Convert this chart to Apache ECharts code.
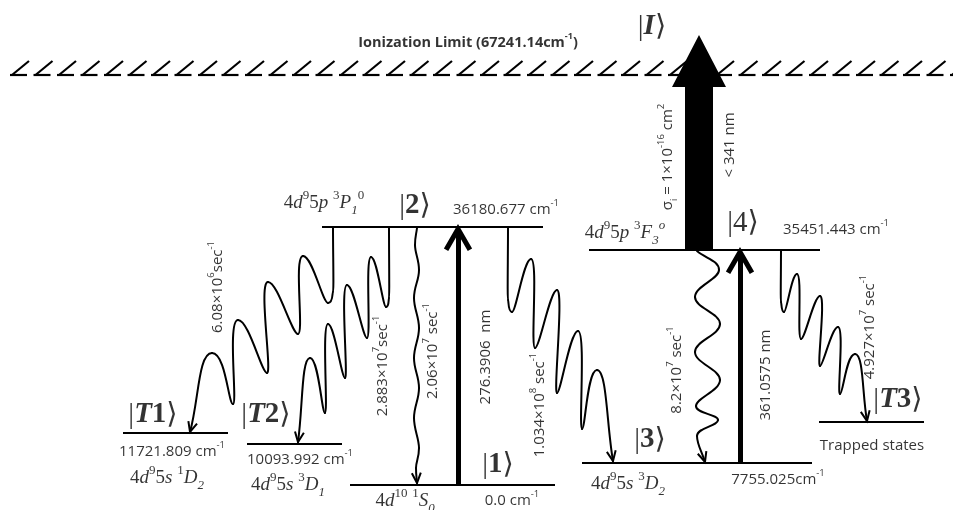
<!DOCTYPE html>
<html><head><meta charset="utf-8">
<script src="https://cdn.jsdelivr.net/npm/echarts@6/dist/echarts.min.js"></script>
<style>html,body{margin:0;padding:0;background:#fff}#c{width:953px;height:510px}</style>
</head><body><div id="c"></div>
<script>
// ---------- data (diagram units: x across, y down; levels are not drawn to energy scale) ----------
const levelNames    = ['T1', 'T2', '1', '2', '3', '4', 'T3'];
const levelEnergies = [11721.809, 10093.992, 0.0, 36180.677, 7755.025, 35451.443, null];
const levelSpans    = [[123, 228, 433], [247, 342, 444], [350, 555, 485], [322, 543, 227], [582, 812, 463], [589, 820, 250], [819, 924, 422]];
const ionizationLimit = 67241.14;
const ionRow = 75;

// excitation (laser) transitions: [x, fromRow, toRow]
const laserUp = [[458, 485, 229], [740, 463, 252]];
// photo-ionisation arrow from |4> : [x, fromRow, tipRow]
const ionArrow = [[699, 250, 35]];

// cascade decays: start on the upper level, straight drop, then the zigzag extremes, arrow tip on the lower level
const decayT1 = [[333, 227], [333, 292], [328, 303], [303, 256], [298, 334], [268, 282], [267, 373], [238, 320], [233, 404], [212, 353], [190, 432]];
const decayT2 = [[389, 227], [389, 298], [386, 307], [371, 257], [367, 338], [347, 285], [345, 378], [328, 324], [325, 413], [310, 358], [298, 442]];
const decay3  = [[508, 227], [508, 300], [512, 312], [531, 259], [535, 348], [557, 290], [557, 393], [578, 331], [582, 429], [597, 370], [613, 461]];
const decayT3 = [[781, 250], [781, 302], [784, 312], [797, 274], [801, 339], [820, 296], [820, 366], [838, 327], [840, 394], [855, 354], [867, 421]];
// spontaneous emission (wavy) lines
const wave21 = [[417, 228], [415, 245], [419, 270], [414, 298], [419, 328], [414, 358], [419, 388], [414, 418], [419, 448], [416, 468], [417, 483]];
const wave43 = [[697, 251], [719, 270], [695, 297], [720, 324], [695, 352], [720, 380], [696, 406], [718, 420], [697, 436], [705, 462]];
const decayPaths = [decayT1, decayT2, decay3, decayT3, wave21, wave43];
const pathKinds  = ['zig', 'zig', 'zig', 'zig', 'wave', 'wave'];

// ---------- text ----------
const textLabels = [
  [468, 43, '{b|Ionization Limit (67241.14cm}{bs|-1}{b|)}', 0],
  [652, 27, '{k||}{kbi|I}{k|⟩}', 0],
  [668, 157, '{s|σ}{sb|i}{s| = 1×10}{ss|-16}{s| cm}{ss|2}', 90],
  [730, 145, '{s|< 341 nm}', 90],
  [625, 233, '{mr|4}{mi|d}{mp|9}{mr|5}{mi|p }{mp|3}{mi|F}{mb|3}{mpi|o}', 0],
  [743, 223, '{k||4⟩}', 0],
  [836, 230, '{s|35451.443 cm}{ss|-1}', 0],
  [324, 203, '{mr|4}{mi|d}{mp|9}{mr|5}{mi|p }{mp|3}{mi|P}{mb|1}{mp|0}', 0],
  [415, 206, '{k||}{kb|2}{k|⟩}', 0],
  [506, 210, '{s|36180.677 cm}{ss|-1}', 0],
  [218, 287, '{s|6.08×10}{ss|6}{s|sec}{ss|-1}', 90],
  [383, 366, '{s|2.883×10}{ss|7}{s|sec}{ss|-1}', 90],
  [433, 351, '{s|2.06×10}{ss|7}{s| sec}{ss|-1}', 90],
  [486, 357, '{s|276.3906  nm}', 90],
  [540, 405, '{s|1.034×10}{ss|8}{s| sec}{ss|-1}', 90],
  [677, 370, '{s|8.2×10}{ss|7}{s| sec}{ss|-1}', 90],
  [766, 375, '{s|361.0575 nm}', 90],
  [870, 327, '{s|4.927×10}{ss|7}{s| sec}{ss|-1}', 90],
  [153, 415, '{k||}{kbi|T}{kb|1}{k|⟩}', 0],
  [172, 452, '{s|11721.809 cm}{ss|-1}', 0],
  [167, 478, '{mr|4}{mi|d}{mp|9}{mr|5}{mi|s }{mp|1}{mi|D}{mb|2}', 0],
  [266, 415, '{k||}{kbi|T}{kb|2}{k|⟩}', 0],
  [300, 460, '{s|10093.992 cm}{ss|-1}', 0],
  [288, 485, '{mr|4}{mi|d}{mp|9}{mr|5}{mi|s }{mp|3}{mi|D}{mb|1}', 0],
  [405, 501, '{mr|4}{mi|d}{mp|10}{mi| }{mp|1}{mi|S}{mb|0}', 0],
  [498, 465, '{k||}{kb|1}{k|⟩}', 0],
  [512, 501, '{s|0.0 cm}{ss|-1}', 0],
  [650, 440, '{k||}{kb|3}{k|⟩}', 0],
  [628, 484, '{mr|4}{mi|d}{mp|9}{mr|5}{mi|s }{mp|3}{mi|D}{mb|2}', 0],
  [778, 480, '{s|7755.025cm}{ss|-1}', 0],
  [898, 400, '{k||}{kbi|T}{kb|3}{k|⟩}', 0],
  [872, 446, '{s|Trapped states}', 0]
];

// ---------- styles ----------
const F = "'Open Sans', 'Noto Sans', sans-serif";
const S = "'Liberation Serif', 'DejaVu Serif', serif";
const rich = {
  s:  {fontFamily: F, fontSize: 15, color: '#000', lineHeight: 23},
  ss: {fontFamily: F, fontSize: 9.5, color: '#000', lineHeight: 10, verticalAlign: 'top'},
  sb: {fontFamily: F, fontSize: 9.5, color: '#000', lineHeight: 17, verticalAlign: 'bottom'},
  b:  {fontFamily: F, fontSize: 14.5, fontWeight: 'bold', color: '#000', lineHeight: 22},
  bs: {fontFamily: F, fontSize: 9, fontWeight: 'bold', color: '#000', lineHeight: 10, verticalAlign: 'top'},
  mi: {fontFamily: S, fontSize: 19, fontStyle: 'italic', color: '#000', lineHeight: 28},
  mr: {fontFamily: S, fontSize: 19, color: '#000', lineHeight: 28},
  mp: {fontFamily: S, fontSize: 13, color: '#000', lineHeight: 14, verticalAlign: 'top'},
  mpi:{fontFamily: S, fontSize: 13, fontStyle: 'italic', color: '#000', lineHeight: 14, verticalAlign: 'top'},
  mb: {fontFamily: S, fontSize: 13, fontStyle: 'italic', color: '#000', lineHeight: 19, verticalAlign: 'bottom'},
  k:  {fontFamily: S, fontSize: 29, color: '#000', lineHeight: 32},
  kb: {fontFamily: S, fontSize: 29, fontWeight: 'bold', color: '#000', lineHeight: 32},
  kbi:{fontFamily: S, fontSize: 29, fontWeight: 'bold', fontStyle: 'italic', color: '#000', lineHeight: 32}
};

// ---------- helpers ----------
function seg(a, b) { return {coords: [a, b]}; }
function chevronPts(tip, from, len, half) {
  const a = Math.atan2(from[1] - tip[1], from[0] - tip[0]);
  return [[tip[0] + len * Math.cos(a + half), tip[1] + len * Math.sin(a + half)], tip,
          [tip[0] + len * Math.cos(a - half), tip[1] + len * Math.sin(a - half)]];
}
function chevron(len, half, width) {
  return function (params, api) {
    const tip = api.coord([api.value(0), api.value(1)]);
    const from = api.coord([api.value(2), api.value(3)]);
    return {type: 'polyline', shape: {points: chevronPts(tip, from, len, half)},
      style: {stroke: '#000', lineWidth: width, fill: null, lineJoin: 'miter', lineCap: 'butt'}};
  };
}
// smooth curve through the read extremes (horizontal tangents for zigzags, vertical for waves), open arrowhead
function renderDecay(params, api) {
  const idx = api.value(0);
  const kind = pathKinds[idx];
  const pts = decayPaths[idx].map(p => api.coord(p));
  const n = pts.length;
  const tan = pts.map((p, i) => {
    if (i === 0) return [2 * (pts[1][0] - p[0]), 2 * (pts[1][1] - p[1])];
    if (i === n - 1) return [2 * (p[0] - pts[n - 2][0]), 2 * (p[1] - pts[n - 2][1])];
    const t = [pts[i + 1][0] - pts[i - 1][0], pts[i + 1][1] - pts[i - 1][1]];
    return kind === 'zig' ? [t[0], 0] : [0, t[1]];
  });
  const kAt = i => {
    if (kind !== 'zig' || i === 0 || i === n - 1) return 0.2;
    const isPeak = pts[i][1] < pts[i - 1][1] && pts[i][1] < pts[i + 1][1];
    return isPeak ? 0.32 : 0.18;
  };
  const children = [];
  for (let i = 0; i < n - 1; i++) {
    const a = pts[i], b = pts[i + 1];
    const ka = kAt(i), kb = kAt(i + 1);
    const c1 = [a[0] + ka * tan[i][0], a[1] + ka * tan[i][1]];
    const c2 = [b[0] - kb * tan[i + 1][0], b[1] - kb * tan[i + 1][1]];
    children.push({type: 'bezierCurve',
      shape: {x1: a[0], y1: a[1], x2: b[0], y2: b[1], cpx1: c1[0], cpy1: c1[1], cpx2: c2[0], cpy2: c2[1]},
      style: {stroke: '#000', lineWidth: 2, fill: null, lineCap: 'round'}});
  }
  const tip = pts[n - 1];
  const from = [tip[0] - tan[n - 1][0], tip[1] - tan[n - 1][1]];
  children.push({type: 'polyline', shape: {points: chevronPts(tip, from, 11, 0.42)},
    style: {stroke: '#000', lineWidth: 2, fill: null, lineJoin: 'miter'}});
  return {type: 'group', children: children};
}

const levelSegs = levelSpans.map(s => seg([s[0], s[2]], [s[1], s[2]]));
const laserSegs = laserUp.map(l => seg([l[0], l[1]], [l[0], l[2] + 4]));
const thickHeads = laserUp.map(l => [l[0], l[2], l[0], l[1]]);

// hatched ionisation boundary
const hatchSegs = [];
for (let x = 10; x < 953; x += 23.5) {
  hatchSegs.push(seg([x, ionRow], [x + 17, ionRow]));
  hatchSegs.push(seg([x + 2, ionRow], [x + 19, ionRow - 14]));
}

const chart = echarts.init(document.getElementById('c'), null, {renderer: 'canvas'});
chart.setOption({
  animation: false,
  backgroundColor: '#fff',
  grid: {left: 0, right: 0, top: 0, bottom: 0},
  xAxis: {type: 'value', min: 0, max: 953, show: false},
  yAxis: {type: 'value', min: 0, max: 510, inverse: true, show: false},
  series: [
    {type: 'lines', coordinateSystem: 'cartesian2d', data: hatchSegs, silent: true,
      lineStyle: {color: '#000', width: 2.2, opacity: 1}, z: 1},
    {type: 'lines', coordinateSystem: 'cartesian2d', data: levelSegs, silent: true,
      lineStyle: {color: '#000', width: 1.8, opacity: 1}, z: 2},
    {type: 'lines', coordinateSystem: 'cartesian2d', data: laserSegs, silent: true,
      lineStyle: {color: '#000', width: 5, opacity: 1}, z: 3},
    {type: 'custom', coordinateSystem: 'cartesian2d', data: decayPaths.map((p, i) => [i]),
      renderItem: renderDecay, silent: true, z: 3},
    {type: 'custom', coordinateSystem: 'cartesian2d', data: thickHeads, renderItem: chevron(24, 0.52, 5), silent: true, z: 4},
    {type: 'custom', coordinateSystem: 'cartesian2d', data: ionArrow, silent: true, z: 5,
      renderItem: function (params, api) {
        const x = api.value(0);
        const base = api.coord([x, api.value(1)]);
        const tip = api.coord([x, api.value(2)]);
        const headBase = tip[1] + 52;
        return {type: 'polygon', shape: {points: [
          [base[0] - 14, base[1]], [base[0] - 14, headBase], [base[0] - 27, headBase], [tip[0], tip[1]],
          [base[0] + 27, headBase], [base[0] + 14, headBase], [base[0] + 14, base[1]]]},
          style: {fill: '#000'}};
      }},
    {type: 'scatter', symbolSize: 1, silent: true, z: 6,
      itemStyle: {color: 'rgba(0,0,0,0)'},
      data: textLabels.map(t => ({value: [t[0], t[1]], txt: t[2], label: {rotate: t[3]}})),
      label: {show: true, position: 'inside', align: 'center', verticalAlign: 'middle',
        formatter: p => p.data.txt, rich: rich}}
  ]
});
</script></body></html>
